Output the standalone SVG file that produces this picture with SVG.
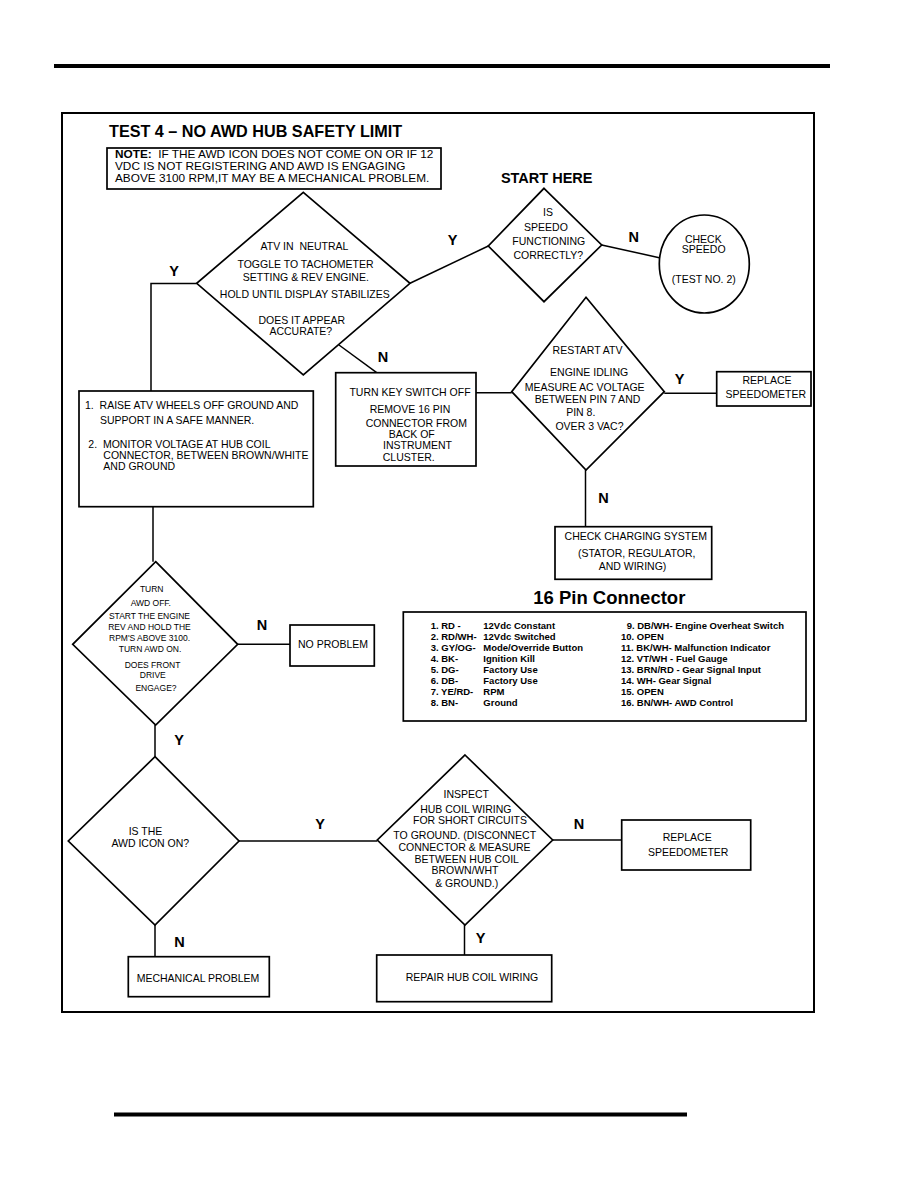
<svg xmlns="http://www.w3.org/2000/svg" width="918" height="1188" viewBox="0 0 918 1188">
<style>
  text { font-family: "Liberation Sans", Arial, sans-serif; fill: #000; }
  .t { font-size: 10.5px; text-anchor: middle; }
  .ts { font-size: 8.5px; text-anchor: middle; }
  .tl { font-size: 10.5px; }
  .lbl { font-size: 14.5px; font-weight: bold; text-anchor: middle; }
  .tab { font-size: 9.5px; font-weight: bold; }
  .shape { fill: #fff; stroke: #000; stroke-width: 1.7; }
  .conn line, .conn polyline { stroke: #000; stroke-width: 1.5; fill: none; }
</style>
<rect width="918" height="1188" fill="#fff"/>
<rect x="54" y="64" width="776" height="4" fill="#000"/>
<rect x="114" y="1112.5" width="573" height="4" fill="#000"/>
<rect x="62" y="113" width="752" height="899" fill="none" stroke="#000" stroke-width="2"/>

<g id="title">
  <text x="109" y="137.3" font-size="16.2" font-weight="bold">TEST 4 – NO AWD HUB SAFETY LIMIT</text>
</g>
<g id="note">
  <rect class="shape" x="107" y="148" width="334" height="41"/>
  <text x="115" y="158.3" font-size="11.8" xml:space="preserve"><tspan font-weight="bold">NOTE:</tspan>  IF THE AWD ICON DOES NOT COME ON OR IF 12</text>
  <text x="115" y="170.3" font-size="11.8">VDC IS NOT REGISTERING AND AWD IS ENGAGING</text>
  <text x="115" y="182.3" font-size="11.8">ABOVE 3100 RPM,IT MAY BE A MECHANICAL PROBLEM.</text>
</g>

<g class="conn" id="connectors">
  <polyline points="196.7,283.5 151,283.5 151,391"/>
  <line x1="410" y1="283.3" x2="488.3" y2="246"/>
  <line x1="601.7" y1="245" x2="659.3" y2="257.7"/>
  <line x1="339" y1="345" x2="376.7" y2="372.7"/>
  <line x1="476" y1="392.7" x2="511.7" y2="392.7"/>
  <line x1="664.3" y1="393.2" x2="716.7" y2="393.2"/>
  <line x1="585.5" y1="470" x2="585.5" y2="526.7"/>
  <line x1="153" y1="506.7" x2="153" y2="561.7"/>
  <line x1="237.7" y1="644.3" x2="290" y2="644.3"/>
  <line x1="155" y1="725" x2="155" y2="756.7"/>
  <line x1="239" y1="841" x2="377.3" y2="841"/>
  <line x1="155" y1="925" x2="155" y2="956.7"/>
  <line x1="552.7" y1="840" x2="621.7" y2="840"/>
  <line x1="464.5" y1="925" x2="464.5" y2="955"/>
</g>

<g id="labels">
  <text class="lbl" x="174" y="275.7">Y</text>
  <text class="lbl" x="452.5" y="245">Y</text>
  <text class="lbl" x="633.7" y="241.7">N</text>
  <text class="lbl" x="383" y="361.7">N</text>
  <text class="lbl" x="679.5" y="384.3">Y</text>
  <text class="lbl" x="603.5" y="503.3">N</text>
  <text class="lbl" x="262" y="630">N</text>
  <text class="lbl" x="179" y="745">Y</text>
  <text class="lbl" x="320" y="829.3">Y</text>
  <text class="lbl" x="579" y="829.3">N</text>
  <text class="lbl" x="179.5" y="946.7">N</text>
  <text class="lbl" x="480.5" y="943.3">Y</text>
</g>

<g id="start-here">
  <text x="546.7" y="182.7" font-size="14.5" font-weight="bold" text-anchor="middle">START HERE</text>
</g>

<g id="speedo-diamond">
  <polygon class="shape" points="544,188.3 601.7,245 544,301.7 488.3,246"/>
  <text class="t" x="548" y="216">IS</text>
  <text class="t" x="546" y="231">SPEEDO</text>
  <text class="t" x="548.8" y="245">FUNCTIONING</text>
  <text class="t" x="548.3" y="259">CORRECTLY?</text>
</g>

<g id="check-speedo">
  <ellipse class="shape" cx="704.3" cy="264" rx="45" ry="49"/>
  <text class="t" x="703.3" y="243.3">CHECK</text>
  <text class="t" x="703.7" y="253.3">SPEEDO</text>
  <text class="t" x="703.8" y="282.7">(TEST NO. 2)</text>
</g>

<g id="atv-neutral-diamond">
  <polygon class="shape" points="303.3,192.3 410,283.3 303.3,375 196.7,283.3"/>
  <text class="t" x="304.5" y="250" xml:space="preserve">ATV IN  NEUTRAL</text>
  <text class="t" x="305.5" y="267.7">TOGGLE TO TACHOMETER</text>
  <text class="t" x="305.8" y="281.3">SETTING &amp; REV ENGINE.</text>
  <text class="t" x="304.8" y="298.3">HOLD UNTIL DISPLAY STABILIZES</text>
  <text class="t" x="301.8" y="323.7">DOES IT APPEAR</text>
  <text class="t" x="300.8" y="335">ACCURATE?</text>
</g>

<g id="raise-atv-box">
  <rect class="shape" x="79" y="391" width="234.3" height="115.7"/>
  <text class="tl" x="85" y="409.3" xml:space="preserve">1.  RAISE ATV WHEELS OFF GROUND AND</text>
  <text class="tl" x="100" y="424.3">SUPPORT IN A SAFE MANNER.</text>
  <text class="tl" x="88.3" y="447.7" xml:space="preserve">2.  MONITOR VOLTAGE AT HUB COIL</text>
  <text class="tl" x="103.3" y="459">CONNECTOR, BETWEEN BROWN/WHITE</text>
  <text class="tl" x="103.3" y="470">AND GROUND</text>
</g>

<g id="turn-key-box">
  <rect class="shape" x="335.7" y="372.7" width="140.3" height="93.3"/>
  <text class="t" x="410" y="396">TURN KEY SWITCH OFF</text>
  <text class="t" x="410" y="413.3">REMOVE 16 PIN</text>
  <text class="t" x="416.3" y="426.7">CONNECTOR FROM</text>
  <text class="t" x="411.7" y="437.7">BACK OF</text>
  <text class="t" x="417.5" y="449.3">INSTRUMENT</text>
  <text class="t" x="408.7" y="461">CLUSTER.</text>
</g>

<g id="restart-diamond">
  <polygon class="shape" points="586,297.3 664.3,391.7 586,470 511.7,391.7"/>
  <text class="t" x="587.5" y="354">RESTART ATV</text>
  <text class="t" x="589.2" y="376">ENGINE IDLING</text>
  <text class="t" x="584.7" y="391">MEASURE AC VOLTAGE</text>
  <text class="t" x="587.5" y="402.7">BETWEEN PIN 7 AND</text>
  <text class="t" x="580.8" y="416">PIN 8.</text>
  <text class="t" x="589.5" y="430">OVER 3 VAC?</text>
</g>

<g id="replace-speedometer-1">
  <rect class="shape" x="716.7" y="371.7" width="94.3" height="34.3"/>
  <text class="t" x="767" y="384.3">REPLACE</text>
  <text class="t" x="765.8" y="397.7">SPEEDOMETER</text>
</g>

<g id="charging-box">
  <rect class="shape" x="555" y="526.7" width="156.7" height="52.6"/>
  <text class="t" x="635.8" y="540">CHECK CHARGING SYSTEM</text>
  <text class="t" x="636.7" y="557.3">(STATOR, REGULATOR,</text>
  <text class="t" x="632.5" y="570">AND WIRING)</text>
</g>

<g id="awd-off-diamond">
  <polygon class="shape" points="155.7,561.7 237.7,644.3 155.7,725 72.7,644.3"/>
  <text class="ts" x="151.7" y="591.7">TURN</text>
  <text class="ts" x="150.8" y="605.7">AWD OFF.</text>
  <text class="ts" x="149.5" y="619.3">START THE ENGINE</text>
  <text class="ts" x="149.5" y="630">REV AND HOLD THE</text>
  <text class="ts" x="149.5" y="641.3">RPM'S ABOVE 3100.</text>
  <text class="ts" x="150" y="652.3">TURN AWD ON.</text>
  <text class="ts" x="152.5" y="667.7">DOES FRONT</text>
  <text class="ts" x="152.8" y="678.3">DRIVE</text>
  <text class="ts" x="156" y="691">ENGAGE?</text>
</g>

<g id="no-problem-box">
  <rect class="shape" x="290" y="625" width="84.3" height="41"/>
  <text class="t" x="333" y="648.3">NO PROBLEM</text>
</g>

<g id="pin-connector">
  <text x="609.3" y="604.3" font-size="18.5" font-weight="bold" text-anchor="middle">16 Pin Connector</text>
  <rect class="shape" x="403.3" y="612" width="402.7" height="109"/>
  <text class="tab" x="430.7" y="629.3">1. RD -</text>
  <text class="tab" x="430.7" y="640.2">2. RD/WH-</text>
  <text class="tab" x="430.7" y="651.1">3. GY/OG-</text>
  <text class="tab" x="430.7" y="662">4. BK-</text>
  <text class="tab" x="430.7" y="672.9">5. DG-</text>
  <text class="tab" x="430.7" y="683.8">6. DB-</text>
  <text class="tab" x="430.7" y="694.7">7. YE/RD-</text>
  <text class="tab" x="430.7" y="705.6">8. BN-</text>
  <text class="tab" x="483.3" y="629.3">12Vdc Constant</text>
  <text class="tab" x="483.3" y="640.2">12Vdc Switched</text>
  <text class="tab" x="483.3" y="651.1">Mode/Override Button</text>
  <text class="tab" x="483.3" y="662">Ignition Kill</text>
  <text class="tab" x="483.3" y="672.9">Factory Use</text>
  <text class="tab" x="483.3" y="683.8">Factory Use</text>
  <text class="tab" x="483.3" y="694.7">RPM</text>
  <text class="tab" x="483.3" y="705.6">Ground</text>
  <text class="tab" x="626.7" y="629.3">9. DB/WH- Engine Overheat Switch</text>
  <text class="tab" x="621" y="640.2">10. OPEN</text>
  <text class="tab" x="621" y="651.1">11. BK/WH- Malfunction Indicator</text>
  <text class="tab" x="621" y="662">12. VT/WH - Fuel Gauge</text>
  <text class="tab" x="621" y="672.9">13. BRN/RD - Gear Signal Input</text>
  <text class="tab" x="621" y="683.8">14. WH- Gear Signal</text>
  <text class="tab" x="621" y="694.7">15. OPEN</text>
  <text class="tab" x="621" y="705.6">16. BN/WH- AWD Control</text>
</g>

<g id="awd-icon-diamond">
  <polygon class="shape" points="155,756.7 239,841 155,925 68.3,841"/>
  <text class="t" x="145.5" y="835">IS THE</text>
  <text class="t" x="150.3" y="847.3">AWD ICON ON?</text>
</g>

<g id="mechanical-problem-box">
  <rect class="shape" x="128.3" y="956.7" width="141" height="40"/>
  <text class="t" x="198" y="982.3">MECHANICAL PROBLEM</text>
</g>

<g id="inspect-diamond">
  <polygon class="shape" points="465,755 552.7,840 465,925 377.3,840"/>
  <text class="t" x="466.3" y="798.3">INSPECT</text>
  <text class="t" x="465.8" y="812.7">HUB COIL WIRING</text>
  <text class="t" x="470" y="824.3">FOR SHORT CIRCUITS</text>
  <text class="t" x="464.7" y="839.3">TO GROUND. (DISCONNECT</text>
  <text class="t" x="464.5" y="851">CONNECTOR &amp; MEASURE</text>
  <text class="t" x="466.7" y="862.7">BETWEEN HUB COIL</text>
  <text class="t" x="465" y="874.3">BROWN/WHT</text>
  <text class="t" x="466.7" y="886.7">&amp; GROUND.)</text>
</g>

<g id="replace-speedometer-2">
  <rect class="shape" x="621.7" y="820" width="129" height="50"/>
  <text class="t" x="687.2" y="841">REPLACE</text>
  <text class="t" x="688.2" y="856">SPEEDOMETER</text>
</g>

<g id="repair-box">
  <rect class="shape" x="376.7" y="955" width="175" height="46.7"/>
  <text class="t" x="472" y="980.7">REPAIR HUB COIL WIRING</text>
</g>
</svg>
